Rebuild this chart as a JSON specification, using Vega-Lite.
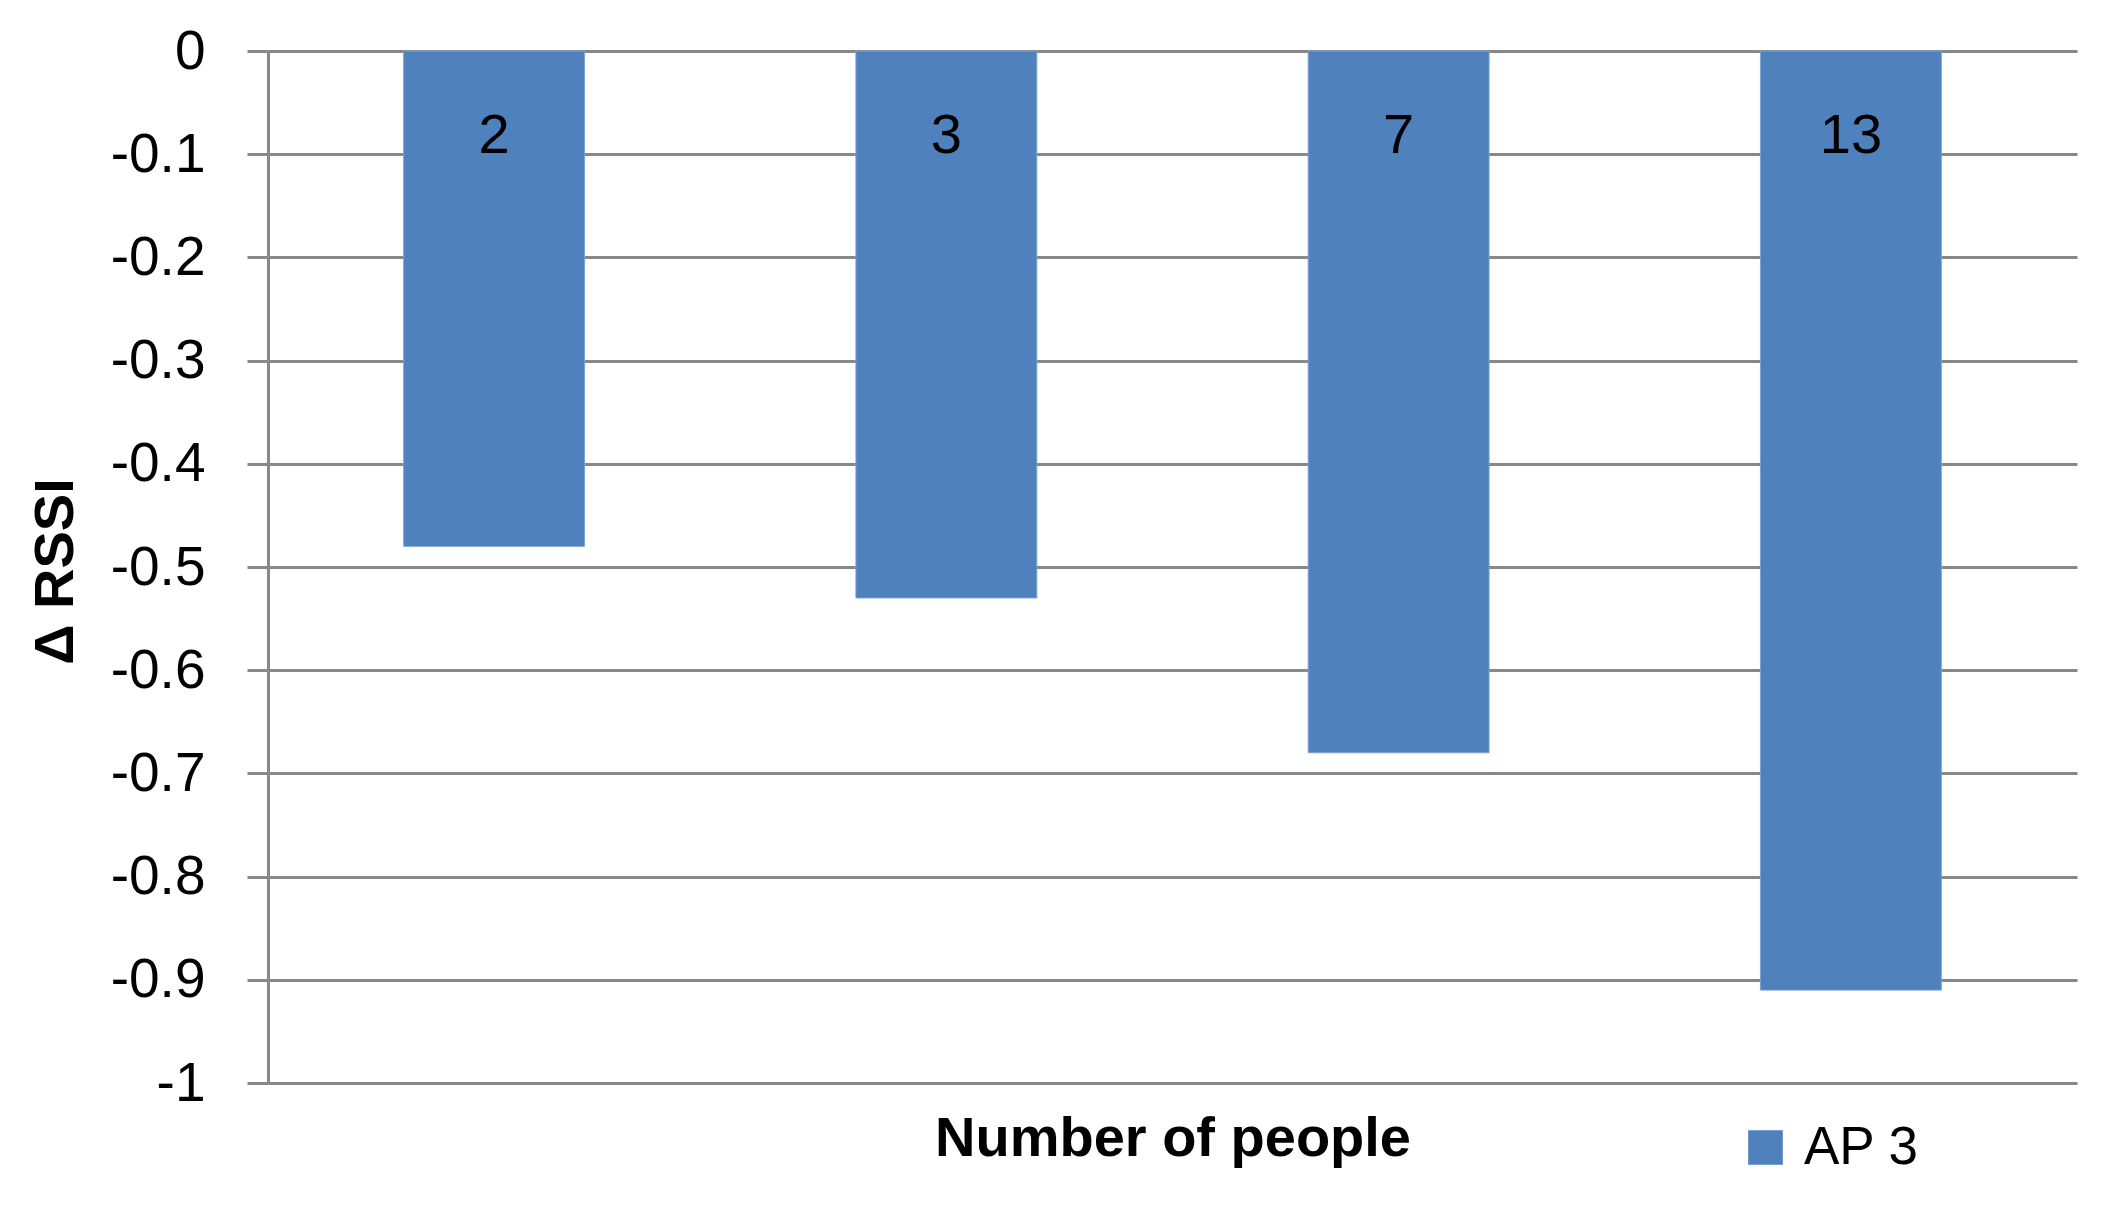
{
  "$schema": "https://vega.github.io/schema/vega-lite/v6.json",
  "width": 1809,
  "height": 1032,
  "autosize": {"type": "none"},
  "padding": {"left": 268, "top": 51, "right": 43, "bottom": 126},
  "background": "white",
  "config": {
    "view": {"stroke": null},
    "font": "Liberation Sans"
  },
  "data": {
    "values": [
      {"people": "2", "dRSSI": -0.48, "series": "AP 3"},
      {"people": "3", "dRSSI": -0.53, "series": "AP 3"},
      {"people": "7", "dRSSI": -0.68, "series": "AP 3"},
      {"people": "13", "dRSSI": -0.91, "series": "AP 3"}
    ]
  },
  "encoding": {
    "x": {
      "field": "people",
      "type": "nominal",
      "sort": null,
      "scale": {"paddingInner": 0.6, "paddingOuter": 0.3},
      "axis": {
        "title": "Number of people",
        "titleFont": "Liberation Sans",
        "titleFontSize": 56,
        "titleFontWeight": "bold",
        "titleColor": "black",
        "titleBaseline": "alphabetic",
        "titleY": 72,
        "labels": false,
        "ticks": false,
        "domain": false
      }
    }
  },
  "layer": [
    {
      "mark": {"type": "bar", "stroke": "#7da2cf", "strokeWidth": 1},
      "encoding": {
        "y": {
          "field": "dRSSI",
          "type": "quantitative",
          "scale": {"domain": [-1, 0], "nice": false},
          "axis": {
            "title": "Δ RSSI",
            "titleFont": "Liberation Sans",
            "titleFontSize": 56,
            "titleFontWeight": "bold",
            "titleColor": "black",
            "titleAngle": -90,
            "titleBaseline": "alphabetic",
            "titleAlign": "center",
            "titleX": -196,
            "titleY": 520,
            "values": [0, -0.1, -0.2, -0.3, -0.4, -0.5, -0.6, -0.7, -0.8, -0.9, -1],
            "labelExpr": "replace(format(datum.value, '~g'), '−', '-')",
            "labelFont": "Liberation Sans",
            "labelFontSize": 55,
            "labelColor": "black",
            "labelPadding": 42,
            "tickSize": 21,
            "tickColor": "#888888",
            "tickWidth": 3,
            "domainColor": "#888888",
            "domainWidth": 3,
            "grid": true,
            "gridColor": "#888888",
            "gridWidth": 3,
            "gridOpacity": 1
          }
        },
        "color": {
          "field": "series",
          "type": "nominal",
          "scale": {"range": ["#4F81BD"]},
          "legend": {
            "title": null,
            "orient": "none",
            "legendX": 1471,
            "legendY": 1070,
            "padding": 0,
            "symbolType": "square",
            "symbolSize": 1200,
            "symbolStrokeWidth": 0,
            "labelFont": "Liberation Sans",
            "labelFontSize": 53,
            "labelColor": "black",
            "labelOffset": 12
          }
        }
      }
    },
    {
      "mark": {"type": "text", "baseline": "alphabetic", "align": "center", "dy": 102, "fontSize": 56, "font": "Liberation Sans", "color": "black"},
      "encoding": {
        "y": {"datum": 0, "type": "quantitative"},
        "text": {"field": "people", "type": "nominal"}
      }
    }
  ]
}
